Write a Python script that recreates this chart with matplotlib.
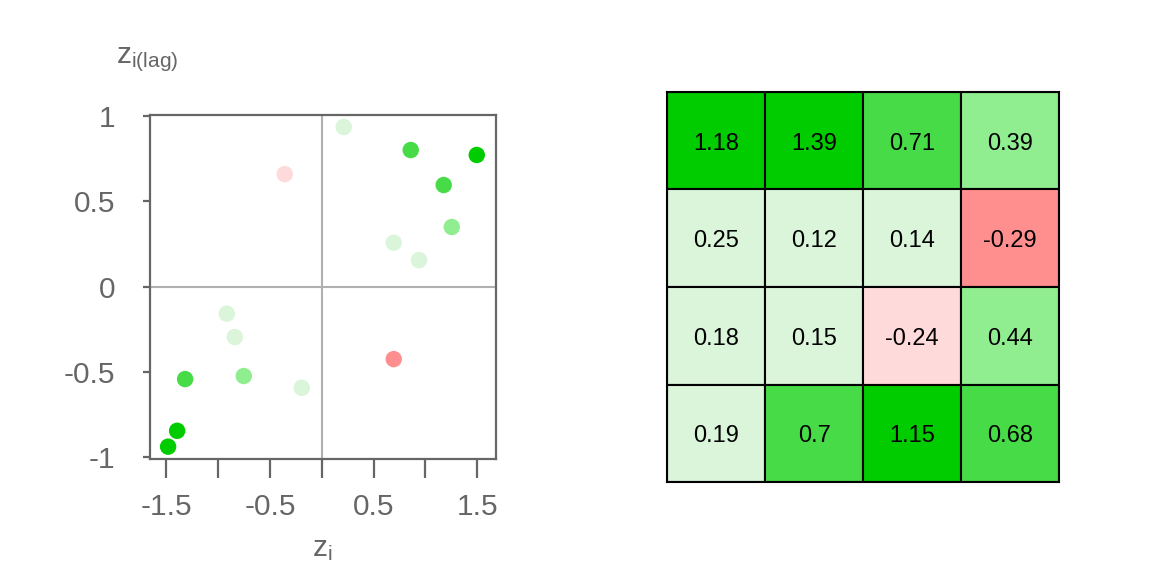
import numpy as np
import matplotlib
matplotlib.use("Agg")
import matplotlib.pyplot as plt

# z-scores and spatial lag per grid cell (row-major, 4x4)
z_i = [-1.395, -1.482, -1.318, -0.752,
       -0.839, -0.193, -0.916, 0.694,
       0.694, 0.938, -0.357, 1.254,
       0.212, 1.176, 1.495, 0.858]
z_lag = [-0.844, -0.937, -0.541, -0.523,
         -0.295, -0.592, -0.158, -0.424,
         0.258, 0.156, 0.660, 0.350,
         0.936, 0.596, 0.772, 0.801]
# local Moran values shown in the grid
local_I = [1.18, 1.39, 0.71, 0.39,
           0.25, 0.12, 0.14, -0.29,
           0.18, 0.15, -0.24, 0.44,
           0.19, 0.7, 1.15, 0.68]
labels = ['1.18', '1.39', '0.71', '0.39',
          '0.25', '0.12', '0.14', '-0.29',
          '0.18', '0.15', '-0.24', '0.44',
          '0.19', '0.7', '1.15', '0.68']

breaks = [-np.inf, -0.25, 0, 0.3, 0.5, 1, np.inf]
pal = ['#FF8F8F', '#FFDADA', '#DAF5DA', '#90EE90', '#47DC47', '#00CC00']


def colour(v):
    for k in range(len(pal)):
        if breaks[k] < v <= breaks[k + 1]:
            return pal[k]
    return pal[-1]


cols = [colour(v) for v in local_I]

plt.rcParams['font.family'] = ['Liberation Sans', 'DejaVu Sans']
grey = '#666666'

fig = plt.figure(figsize=(11.52, 5.76), dpi=100)

# scatter
ax = fig.add_axes([0.130, 0.2026, 0.3006, 0.5977])
ax.axhline(0, color='#B0B0B0', lw=1.5, zorder=1)
ax.axvline(0, color='#B0B0B0', lw=1.5, zorder=1)
ax.scatter(z_i, z_lag, s=140, c=cols, linewidths=0, zorder=3)
ax.set_xlim(-1.659, 1.681)
ax.set_ylim(-1.011, 1.006)
ax.set_xticks([-1.5, -1, -0.5, 0, 0.5, 1, 1.5])
ax.set_xticklabels(['-1.5', '', '-0.5', '', '0.5', '', '1.5'])
ax.set_yticks([-1, -0.5, 0, 0.5, 1])
ax.set_yticklabels(['-1', '-0.5', '0', '0.5', '1'])
for s in ax.spines.values():
    s.set_color(grey)
    s.set_linewidth(1.6)
ax.tick_params(axis='x', length=14, width=1.6, color=grey, labelcolor=grey,
               labelsize=21.5, pad=10)
ax.tick_params(axis='y', length=5, width=1.6, color=grey, labelcolor=grey,
               labelsize=21.5, pad=20)
fig.text(116 / 1152, 1 - 63 / 576, r'$\mathregular{z_{i(lag)}}$', color=grey,
         fontsize=21.5, ha='left', va='baseline')
fig.text(322 / 1152, 1 - 556 / 576, r'$\mathregular{z_{i}}$', color=grey,
         fontsize=21.5, ha='center', va='baseline')

# grid of local I
gx = fig.add_axes([0.5793, 0.1627, 0.340, 0.678])
n = 4
for idx, v in enumerate(labels):
    r, c = divmod(idx, n)
    gx.add_patch(plt.Rectangle((c, n - 1 - r), 1, 1, facecolor=cols[idx],
                               edgecolor='black', lw=1.5))
    gx.text(c + 0.5, n - 0.53 - r, v, ha='center', va='center', fontsize=17,
            color='black')
gx.set_xlim(0, n)
gx.set_ylim(0, n)
gx.set_xticks([])
gx.set_yticks([])
for s in gx.spines.values():
    s.set_linewidth(1.5)

fig.savefig('out.png', dpi=100)
